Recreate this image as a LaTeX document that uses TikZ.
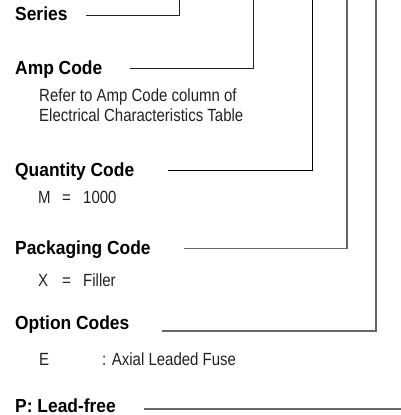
\documentclass[tikz,border=0pt]{standalone}
\usepackage{fontspec}
\setmainfont{Liberation Sans}
\newfontfamily\headfont{Liberation Sans}[FakeStretch=0.92]
\newfontfamily\bodyfont{Liberation Sans}[FakeStretch=0.85]
\definecolor{darkline}{HTML}{222222}
\definecolor{grayline}{HTML}{666666}
\definecolor{bodytext}{HTML}{222222}
\tikzset{
  head/.style={anchor=base west, inner sep=0pt, text depth=0pt, font=\headfont\bfseries\fontsize{19}{20}\selectfont, text=black},
  body/.style={anchor=base west, inner sep=0pt, font=\bodyfont\fontsize{17.7}{19.5}\selectfont, text=bodytext},
  lead/.style={line width=0.9bp, darkline},
  leadgray/.style={line width=1.1bp, grayline},
}
\begin{document}
\begin{tikzpicture}[x=1bp,y=-1bp]
\useasboundingbox (0,0) rectangle (401,415);
% headings
\node[head] (series) at (15,20.7) {Series};
\node[head] (amp) at (15,74) {Amp Code};
\node[body] (refer1) at (39,101.7) {Refer to Amp Code column of};
\node[body] (refer2) at (39,121.5) {Electrical Characteristics Table};
\node[head] (qty) at (15,176.5) {Quantity Code};
\node[body] (qtyv) at (38,203) {\makebox[24bp][l]{M}\makebox[21bp][l]{=}1000};
\node[head] (pack) at (15,254) {Packaging Code};
\node[body] (packv) at (38,286.7) {\makebox[24bp][l]{X}\makebox[21bp][l]{=}Filler};
\node[head] (opt) at (15,329) {Option Codes};
\node[body] (optv) at (39,365) {\makebox[63bp][l]{E}: Axial Leaded Fuse};
\node[head] (pb) at (15,412.5) {P: Lead-free};
% leader end points
\coordinate (s0) at (86,15);   \coordinate (s1) at (179,15);  \coordinate (s2) at (179,0);
\coordinate (a0) at (130,68);  \coordinate (a1) at (253,68);  \coordinate (a2) at (253,0);
\coordinate (q0) at (168,170); \coordinate (q1) at (312,170); \coordinate (q2) at (312,0);
\coordinate (k0) at (184,248.5); \coordinate (k1) at (347,248.5); \coordinate (k2) at (347,0);
\coordinate (o0) at (162,331); \coordinate (o1) at (376,331); \coordinate (o2) at (376,0);
\coordinate (p0) at (144,409); \coordinate (p1) at (402,409);
\draw[lead] (s0) -- (s1) -- (s2);
\draw[lead] (a0) -- (a1) -- (a2);
\draw[lead, black] (q0) -- (q1) -- (q2);
\draw[leadgray] (k0) -- (k1) -- (k2);
\draw[leadgray] (o0) -- (o1) -- (o2);
\draw[leadgray] (p0) -- (p1);
\end{tikzpicture}
\end{document}
